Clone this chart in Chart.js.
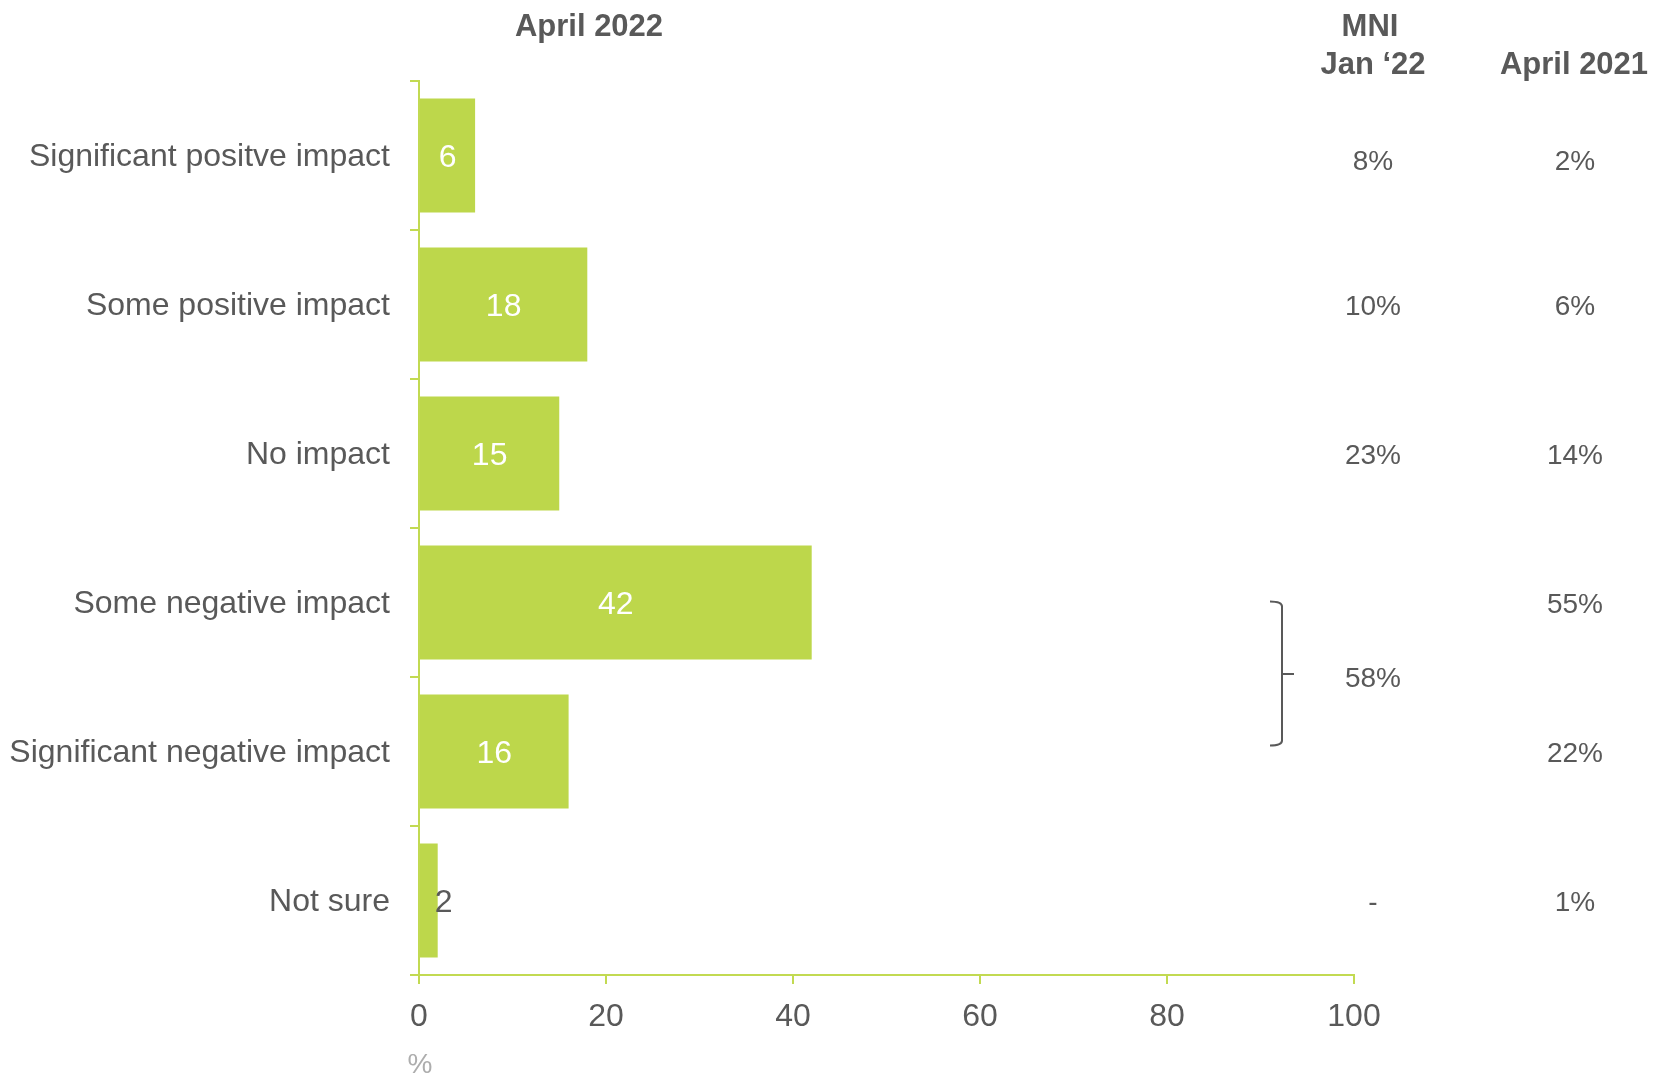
<!DOCTYPE html>
<html>
<head>
<meta charset="utf-8">
<script src="https://cdn.jsdelivr.net/npm/chart.js@4.4.1/dist/chart.umd.min.js"></script>
<style>
  html, body { margin: 0; padding: 0; background: #ffffff; }
  #c { display: block; }
</style>
</head>
<body>
<canvas id="c" width="1662" height="1081"></canvas>
<script>
// ---- data ----
const categories = [
  'Significant positve impact',
  'Some positive impact',
  'No impact',
  'Some negative impact',
  'Significant negative impact',
  'Not sure'
];
const april2022 = [6, 18, 15, 42, 16, 2];
// MNI Jan '22: rows 3 and 4 (negative) are reported combined; null -> '-'
const mniJan22 = [8, 10, 23, null, null, null];
const mniCombinedNegative = 58;
const mniCombinedRows = [3, 4];
const april2021 = [2, 6, 14, 55, 22, 1];
const xTicks = [0, 20, 40, 60, 80, 100];

const headerMain = 'April 2022';
const headerMni = ['MNI', 'Jan \u201822'];
const headerPrev = 'April 2021';
const unitLabel = '%';

// ---- styles ----
const GREEN = '#BDD74B';
const AXIS = '#C2DA52';
const TEXT = '#595959';
const FONT = '"Liberation Sans", Arial, Helvetica, sans-serif';

const overlay = {
  id: 'overlay',
  afterDatasetsDraw(chart) {
    const ctx = chart.ctx;
    const meta = chart.getDatasetMeta(0);
    const yScale = chart.scales.y;
    ctx.save();
    // bar value labels
    ctx.font = '32px ' + FONT;
    ctx.textBaseline = 'middle';
    meta.data.forEach((bar, i) => {
      const v = april2022[i];
      const w = bar.x - bar.base;
      if (w > 40) {
        ctx.fillStyle = '#ffffff';
        ctx.textAlign = 'center';
        ctx.fillText(String(v), (bar.x + bar.base) / 2, bar.y + 3);
      } else {
        ctx.fillStyle = TEXT;
        ctx.textAlign = 'left';
        ctx.fillText(String(v), bar.x - 3, bar.y + 3);
      }
    });

    // headers
    ctx.fillStyle = TEXT;
    ctx.font = 'bold 31px ' + FONT;
    ctx.textAlign = 'center';
    ctx.textBaseline = 'alphabetic';
    ctx.fillText(headerMain, 589, 36);
    ctx.fillText(headerMni[0], 1370, 36);
    ctx.fillText(headerMni[1], 1373, 74);
    ctx.fillText(headerPrev, 1574, 74);

    // right columns
    const colMni = 1373, colPrev = 1575;
    ctx.font = '28px ' + FONT;
    ctx.textBaseline = 'middle';
    categories.forEach((c, i) => {
      const y = yScale.getPixelForValue(i) + (i === 0 ? 7 : 3);
      if (!mniCombinedRows.includes(i)) {
        const m = mniJan22[i];
        ctx.fillText(m === null ? '-' : m + '%', colMni, y);
      }
      ctx.fillText(april2021[i] + '%', colPrev, y);
    });
    const yA = yScale.getPixelForValue(mniCombinedRows[0]);
    const yB = yScale.getPixelForValue(mniCombinedRows[1]);
    const yMid = (yA + yB) / 2;
    ctx.fillText(mniCombinedNegative + '%', colMni, yMid + 2);

    // bracket
    const bx = 1282;
    const top = yA - 1, bot = yB - 6;
    ctx.strokeStyle = TEXT;
    ctx.lineWidth = 2;
    ctx.beginPath();
    ctx.moveTo(1270, top);
    ctx.quadraticCurveTo(bx, top, bx, top + 5);
    ctx.lineTo(bx, bot - 5);
    ctx.quadraticCurveTo(bx, bot, 1270, bot);
    ctx.stroke();
    ctx.beginPath();
    ctx.moveTo(bx, yMid - 3);
    ctx.lineTo(1294, yMid - 3);
    ctx.stroke();

    // unit label
    ctx.fillStyle = '#ADADAD';
    ctx.font = '28px ' + FONT;
    ctx.textAlign = 'center';
    ctx.fillText(unitLabel, 420, 1065);
    ctx.restore();
  }
};

new Chart(document.getElementById('c'), {
  type: 'bar',
  data: {
    labels: categories,
    datasets: [{
      data: april2022,
      backgroundColor: GREEN,
      borderWidth: 0,
      categoryPercentage: 1.0,
      barPercentage: 0.765
    }]
  },
  options: {
    indexAxis: 'y',
    responsive: false,
    devicePixelRatio: 1,
    animation: false,
    layout: { padding: { top: 81, right: 308, left: 0, bottom: 0 } },
    plugins: {
      legend: { display: false },
      tooltip: { enabled: false },
      title: { display: false }
    },
    scales: {
      x: {
        min: 0,
        max: 100,
        afterBuildTicks(scale) { scale.ticks = xTicks.map(v => ({ value: v })); },
        afterFit(scale) { scale.height = 106; },
        grid: { drawOnChartArea: false, drawTicks: true, tickLength: 9, color: AXIS, lineWidth: 2 },
        border: { display: true, color: AXIS, width: 2 },
        ticks: { color: TEXT, font: { family: FONT, size: 32 }, padding: 14, maxRotation: 0 }
      },
      y: {
        afterFit(scale) { scale.width = 419; },
        grid: { drawOnChartArea: false, drawTicks: true, tickLength: 9, color: AXIS, lineWidth: 2, offset: true },
        border: { display: true, color: AXIS, width: 2 },
        ticks: { color: TEXT, font: { family: FONT, size: 32 }, padding: 20, labelOffset: 2 }
      }
    }
  },
  plugins: [overlay]
});
</script>
</body>
</html>
